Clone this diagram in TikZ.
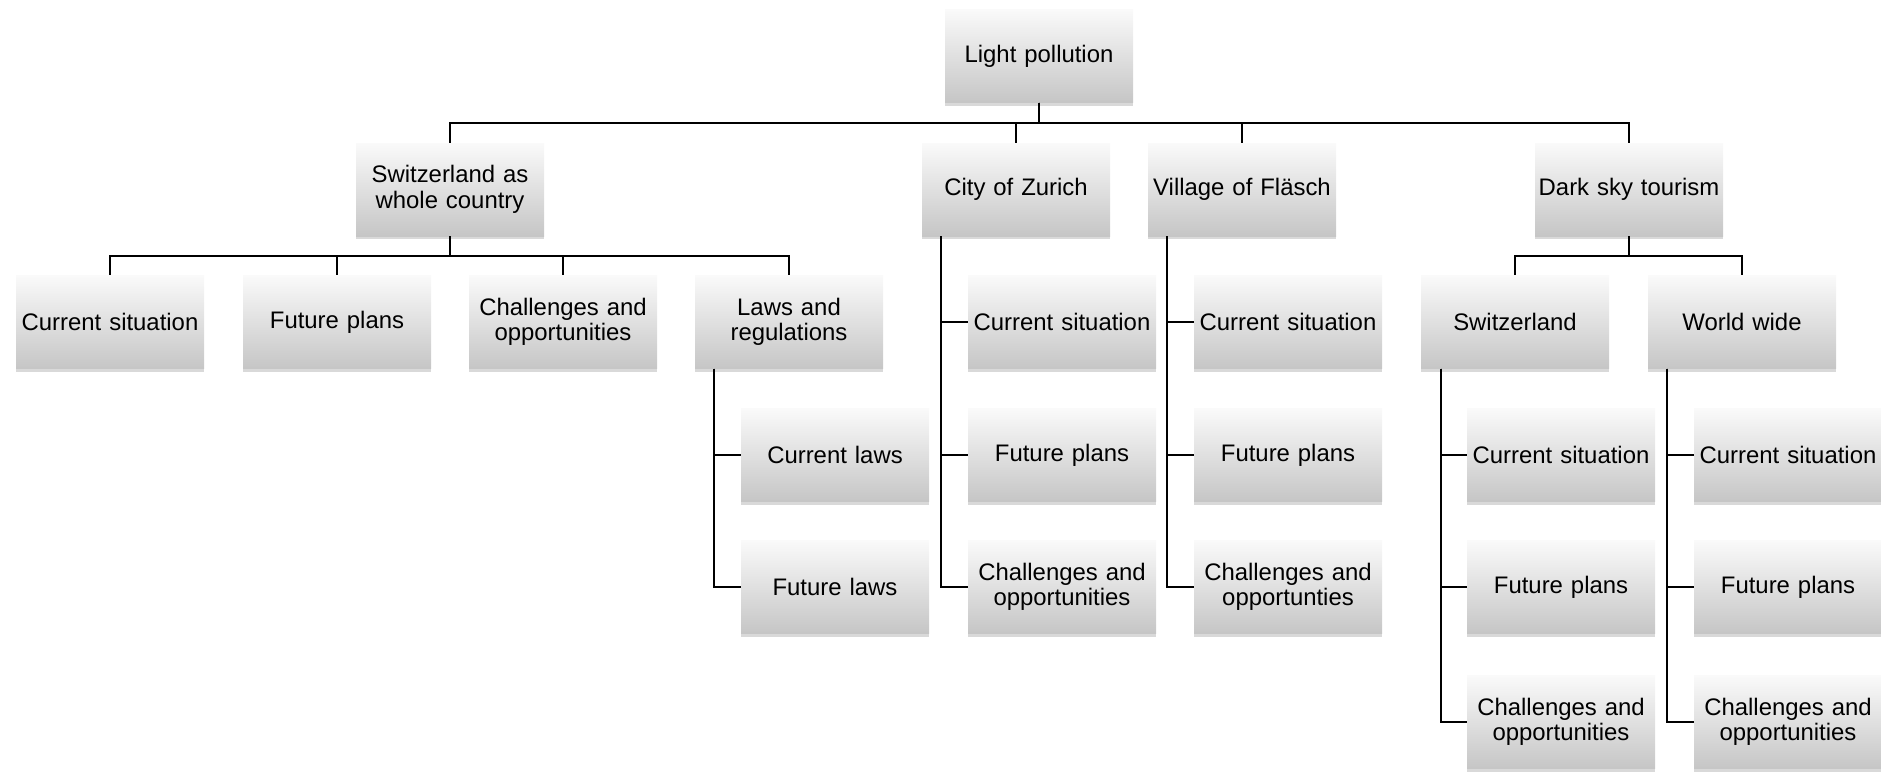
\documentclass[tikz,border=0pt]{standalone}
\usepackage{fontspec}
\setmainfont{Liberation Sans}
\usetikzlibrary{shadows}
\begin{document}
\begin{tikzpicture}[x=1pt,y=-1pt,
  box/.style={rectangle,minimum width=188pt,minimum height=93pt,inner sep=2pt,
    text width=184pt,align=center,
    top color=gray!4,bottom color=gray!45,draw=none,
    drop shadow={shadow xshift=0pt,shadow yshift=-3pt,opacity=.3,fill=gray},
    font=\fontsize{23.9}{25.5}\selectfont},
  link/.style={draw=black,line width=1.8pt}]
\useasboundingbox (0,0) rectangle (1881,771);
% top
\node[box] (lp) at (1039,56) {Light pollution};
% level 1
\node[box] (sw) at (450,189.5) {Switzerland as\\whole country};
\node[box] (zu) at (1016,189.5) {City of Zurich};
\node[box] (vi) at (1242,189.5) {Village of Fläsch};
\node[box] (ds) at (1629,189.5) {Dark sky tourism};
% Switzerland children
\node[box] (swcs) at (110,322) {Current situation};
\node[box] (swfp) at (337,322) {Future plans};
\node[box] (swco) at (563,322) {Challenges and\\opportunities};
\node[box] (swlr) at (789,322) {Laws and\\regulations};
\node[box] (lrcl) at (835,455) {Current laws};
\node[box] (lrfl) at (835,587) {Future laws};
% Zurich children
\node[box] (zucs) at (1062,322) {Current situation};
\node[box] (zufp) at (1062,455) {Future plans};
\node[box] (zuco) at (1062,587) {Challenges and\\opportunities};
% Village children
\node[box] (vics) at (1288,322) {Current situation};
\node[box] (vifp) at (1288,455) {Future plans};
\node[box] (vico) at (1288,587) {Challenges and\\opportunties};
% Dark sky children
\node[box] (dssw) at (1515,322) {Switzerland};
\node[box] (dsww) at (1742,322) {World wide};
\node[box] (swics) at (1561,455) {Current situation};
\node[box] (swifp) at (1561,587) {Future plans};
\node[box] (swico) at (1561,722) {Challenges and\\opportunities};
\node[box] (wwcs) at (1788,455) {Current situation};
\node[box] (wwfp) at (1788,587) {Future plans};
\node[box] (wwco) at (1788,722) {Challenges and\\opportunities};
% connectors top
\foreach \c in {sw,zu,vi,ds}
  \draw[link] (lp.south) -- ++(0,20.5) -| (\c.north);
% Switzerland
\foreach \c in {swcs,swfp,swco,swlr}
  \draw[link] (sw.south) -- ++(0,20) -| (\c.north);
% Dark sky
\foreach \c in {dssw,dsww}
  \draw[link] (ds.south) -- ++(0,20) -| (\c.north);
% side trees
\foreach \c in {lrcl,lrfl}
  \draw[link] ([xshift=-75pt]swlr.south) |- (\c.west);
\foreach \c in {zucs,zufp,zuco}
  \draw[link] ([xshift=-75pt]zu.south) |- (\c.west);
\foreach \c in {vics,vifp,vico}
  \draw[link] ([xshift=-75pt]vi.south) |- (\c.west);
\foreach \c in {swics,swifp,swico}
  \draw[link] ([xshift=-74pt]dssw.south) |- (\c.west);
\foreach \c in {wwcs,wwfp,wwco}
  \draw[link] ([xshift=-75pt]dsww.south) |- (\c.west);
\end{tikzpicture}
\end{document}
